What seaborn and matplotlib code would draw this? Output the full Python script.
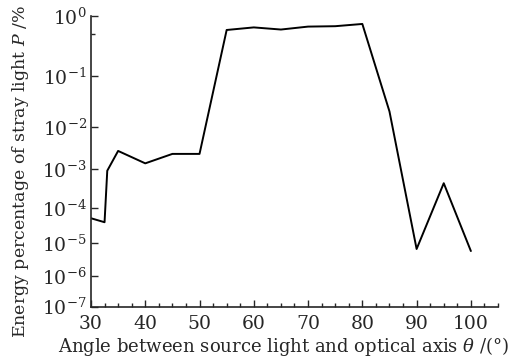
import numpy as np
import pandas as pd
import seaborn as sns
import matplotlib
matplotlib.use("Agg")
import matplotlib.pyplot as plt
from matplotlib.ticker import FixedLocator, LogFormatterMathtext, MultipleLocator

# -------------------------------
# 1. Data
# -------------------------------
angle = [30, 32.5, 33, 35, 40, 45, 50, 55, 60, 65, 70, 75, 80, 85, 90, 95, 100]
energy = [5.2e-5, 4.0e-5, 9.2e-4, 2.7e-3, 1.38e-3, 2.3e-3, 2.3e-3,
          0.58, 0.64, 0.59, 0.66, 0.67, 0.73, 0.02, 6.7e-6, 4.4e-4, 5.8e-6]
decades = [1e-7, 1e-6, 1e-5, 1e-4, 1e-3, 1e-2, 1e-1, 1e0]

df = pd.DataFrame({"angle": angle, "energy": energy})

# -------------------------------
# 2. Y scale: the original uses uneven decade spacing
# -------------------------------
dec_exp = np.log10(decades)
dec_pos = np.array([0, 30.7, 63.4, 98.4, 137.4, 180, 230.7, 291]) / 291


def forward(v):
    v = np.maximum(np.asarray(v, dtype=float), 1e-300)
    return np.interp(np.log10(v), dec_exp, dec_pos, left=-0.2, right=1.2)


def inverse(p):
    return 10 ** np.interp(p, dec_pos, dec_exp)


# -------------------------------
# 3. Plot
# -------------------------------
sns.set_style("ticks")
plt.rcParams["font.family"] = ["DejaVu Serif"]
plt.rcParams["mathtext.fontset"] = "dejavuserif"

fig = plt.figure(figsize=(5.25, 3.58), dpi=100)
ax = fig.add_axes([0.1733, 0.1433, 0.7753, 0.8128])

sns.lineplot(data=df, x="angle", y="energy", color="black", linewidth=1.4, ax=ax)

ax.set_yscale("function", functions=(forward, inverse))
ax.set_ylim(1e-7, 1)
ax.yaxis.set_major_locator(FixedLocator(decades))
ax.yaxis.set_major_formatter(LogFormatterMathtext())
ax.yaxis.set_minor_locator(FixedLocator([0.5]))

ax.set_xlim(30, 105)
ax.xaxis.set_major_locator(FixedLocator([30, 40, 50, 60, 70, 80, 90, 100]))
ax.xaxis.set_minor_locator(MultipleLocator(2.5))

ax.tick_params(which="both", direction="in", labelsize=13.5, width=1)
ax.tick_params(axis="x", pad=6)
ax.tick_params(axis="y", pad=3)
ax.tick_params(which="major", length=5)
ax.tick_params(which="minor", length=3)

for side in ["top", "right"]:
    ax.spines[side].set_visible(False)
for side in ["left", "bottom"]:
    ax.spines[side].set_linewidth(1.2)

ax.set_xlabel(r"Angle between source light and optical axis $\theta$ /(°)", fontsize=13)
ax.set_ylabel(r"Energy percentage of stray light $P$ /%", fontsize=12.5)
ax.xaxis.set_label_coords(0.474, -0.097)
ax.yaxis.set_label_coords(-0.148, 0.466)

fig.savefig("out.png", dpi=100)
